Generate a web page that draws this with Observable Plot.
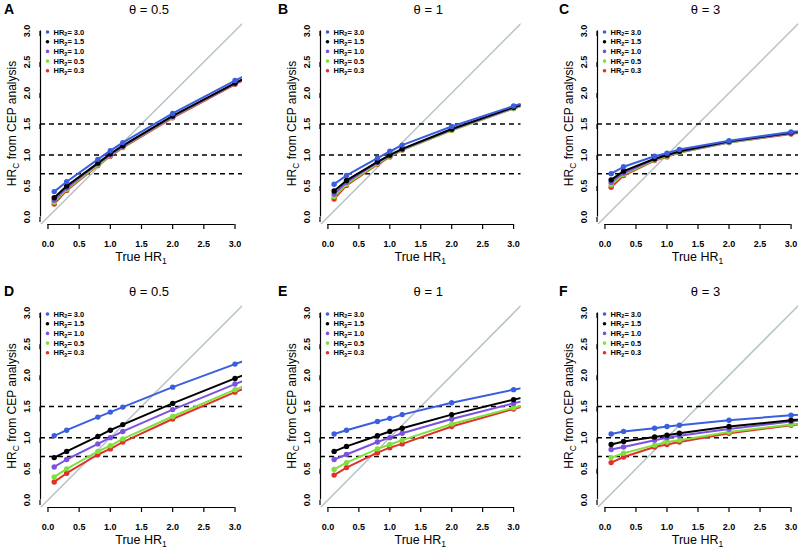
<!DOCTYPE html>
<html><head><meta charset="utf-8">
<script src="https://cdn.jsdelivr.net/npm/d3@7"></script>
<script src="https://cdn.jsdelivr.net/npm/@observablehq/plot@0.6"></script>
<style>
html,body{margin:0;padding:0;background:#fff;overflow:hidden}
#wrap{position:relative;width:800px;height:548px;overflow:hidden;background:#fff}
#wrap svg{position:absolute;overflow:visible}
</style></head><body><div id="wrap"></div>
<script>
// ---------- data ----------
const hr1Values = [0.1, 0.3, 0.8, 1.0, 1.2, 2.0, 3.0];
const hr1Offscale = 4.0; // last value in each row: line continues past the frame edge
const hr2Levels = [3.0, 1.5, 1.0, 0.5, 0.3];
const hr2Colors = ["#3a5ee0", "#000000", "#7b52e0", "#80e03c", "#e2302a"];
const panelLetters = ["A", "B", "C", "D", "E", "F"];
const panelThetas = ["0.5", "1", "3", "0.5", "1", "3"];
const xTicks = [0, 0.5, 1, 1.5, 2, 2.5, 3];
const yTicks = [0, 0.5, 1, 1.5, 2, 2.5, 3];
const refLevels = [0.7, 1.0, 1.5];

// rows: HR2 = 3.0, 1.5, 1.0, 0.5, 0.3 ; columns: hr1Values, then hr1Offscale
const panelA = [
  [0.41, 0.57, 0.93, 1.07, 1.20, 1.67, 2.20, 2.70],
  [0.31, 0.50, 0.87, 1.02, 1.15, 1.63, 2.16, 2.66],
  [0.27, 0.47, 0.86, 1.00, 1.14, 1.62, 2.15, 2.65],
  [0.24, 0.45, 0.84, 0.99, 1.13, 1.61, 2.15, 2.65],
  [0.21, 0.43, 0.83, 0.98, 1.12, 1.60, 2.14, 2.64]
];
const panelB = [
  [0.53, 0.67, 0.95, 1.06, 1.16, 1.46, 1.79, 2.10],
  [0.42, 0.59, 0.89, 1.00, 1.10, 1.42, 1.77, 2.09],
  [0.37, 0.56, 0.88, 0.99, 1.09, 1.41, 1.76, 2.08],
  [0.33, 0.53, 0.86, 0.98, 1.08, 1.40, 1.75, 2.07],
  [0.29, 0.51, 0.85, 0.97, 1.08, 1.40, 1.75, 2.07]
];
const panelC = [
  [0.70, 0.81, 0.98, 1.03, 1.09, 1.23, 1.37, 1.50],
  [0.60, 0.74, 0.94, 1.00, 1.06, 1.22, 1.36, 1.49],
  [0.56, 0.71, 0.93, 0.99, 1.05, 1.21, 1.35, 1.48],
  [0.52, 0.69, 0.92, 0.98, 1.04, 1.20, 1.35, 1.48],
  [0.48, 0.67, 0.91, 0.97, 1.04, 1.20, 1.34, 1.47]
];
const panelD = [
  [1.03, 1.12, 1.33, 1.41, 1.49, 1.81, 2.18, 2.53],
  [0.68, 0.78, 1.02, 1.12, 1.21, 1.55, 1.95, 2.33],
  [0.53, 0.65, 0.90, 1.00, 1.10, 1.45, 1.86, 2.25],
  [0.37, 0.50, 0.78, 0.87, 0.98, 1.34, 1.77, 2.18],
  [0.29, 0.43, 0.73, 0.82, 0.93, 1.30, 1.73, 2.14]
];
const panelE = [
  [1.06, 1.12, 1.26, 1.31, 1.37, 1.56, 1.77, 1.97],
  [0.78, 0.86, 1.03, 1.10, 1.15, 1.37, 1.61, 1.84],
  [0.65, 0.73, 0.93, 1.00, 1.07, 1.30, 1.55, 1.79],
  [0.49, 0.60, 0.82, 0.89, 0.96, 1.22, 1.48, 1.73],
  [0.40, 0.52, 0.76, 0.84, 0.90, 1.18, 1.46, 1.72]
];
const panelF = [
  [1.06, 1.10, 1.15, 1.18, 1.20, 1.28, 1.36, 1.44],
  [0.89, 0.94, 1.01, 1.04, 1.07, 1.18, 1.28, 1.37],
  [0.81, 0.85, 0.96, 1.00, 1.03, 1.14, 1.26, 1.36],
  [0.68, 0.75, 0.88, 0.93, 0.96, 1.09, 1.21, 1.32],
  [0.60, 0.69, 0.85, 0.89, 0.93, 1.07, 1.20, 1.31]
];
const panels = [panelA, panelB, panelC, panelD, panelE, panelF];

// ---------- layout ----------
const FONT = '"Liberation Sans", Arial, Helvetica, sans-serif';
const xDomain = [-0.12, 3.12], yDomain = [-0.12, 3.12];
const ml = 48, mr = 14, mt = 28, mb = 52;
const layout = [
  {left: 39.5, top: 23, w: 202, h: 201, letterDx: -36},
  {left: 320, top: 23, w: 200.5, h: 201, letterDx: -42},
  {left: 597, top: 23, w: 201, h: 201, letterDx: -38},
  {left: 39.5, top: 305, w: 202, h: 202, letterDx: -36},
  {left: 320, top: 305, w: 200.5, h: 202, letterDx: -42},
  {left: 597, top: 305, w: 201, h: 202, letterDx: -38}
];
const diagColor = "#b5c3c7";
const wrap = document.getElementById("wrap");

layout.forEach((L, i) => {
  const rows = [];
  panels[i].forEach((vals, s) => vals.forEach((v, j) => rows.push({
    s, x: j < hr1Values.length ? hr1Values[j] : hr1Offscale, y: v, shown: j < hr1Values.length
  })));
  const marks = [
    Plot.line(xDomain, {x: d => d, y: d => d, stroke: diagColor, strokeWidth: 1.5, clip: true}),
    Plot.ruleY(refLevels, {stroke: "#000", strokeWidth: 1.5, strokeDasharray: "5,4"})
  ];
  for (const s of [4, 3, 2, 1, 0]) {
    const sub = rows.filter(r => r.s === s);
    marks.push(Plot.line(sub, {x: "x", y: "y", stroke: hr2Colors[s], strokeWidth: 2, clip: true}));
    marks.push(Plot.dot(sub.filter(r => r.shown), {x: "x", y: "y", r: 2.7, fill: hr2Colors[s]}));
  }
  marks.push(Plot.ruleY([yDomain[0]], {x1: () => xTicks[0], x2: () => xTicks[xTicks.length - 1], stroke: "#000", strokeWidth: 1.2}));
  marks.push(Plot.ruleX([xDomain[0]], {y1: () => yTicks[0], y2: () => yTicks[yTicks.length - 1], stroke: "#000", strokeWidth: 1.2}));
  marks.push(Plot.axisX({ticks: xTicks, tickSize: 5, tickPadding: 11, tickFormat: d3.format(".1f"),
    fontSize: 9, fontWeight: "bold", label: null, strokeWidth: 1.2}));
  marks.push(Plot.axisY({ticks: yTicks, tickSize: 5, tickPadding: 6, tickFormat: d3.format(".1f"),
    rotate: -90, textAnchor: "middle", lineAnchor: "bottom", fontSize: 9, fontWeight: "bold", label: null, strokeWidth: 1.2}));

  const node = Plot.plot({
    width: ml + L.w + mr, height: mt + L.h + mb,
    marginLeft: ml, marginRight: mr, marginTop: mt, marginBottom: mb,
    x: {domain: xDomain}, y: {domain: yDomain},
    style: {background: "transparent", fontFamily: FONT, overflow: "visible", color: "#000"},
    marks
  });
  node.style.left = (L.left - ml) + "px";
  node.style.top = (L.top - mt) + "px";
  node.style.maxWidth = "none";
  wrap.appendChild(node);

  const g = d3.select(node).append("g").attr("font-family", FONT).attr("fill", "#000").attr("text-anchor", "start");
  g.append("text").attr("x", ml + L.letterDx).attr("y", mt - 9.5)
    .attr("font-size", 14).attr("font-weight", "bold").text(panelLetters[i]);
  g.append("text").attr("x", ml + L.w / 2 + 8).attr("y", mt - 9.5)
    .attr("font-size", 13).attr("text-anchor", "middle").text("θ = " + panelThetas[i]);

  const xt = g.append("text").attr("x", ml + L.w / 2).attr("y", mt + L.h + 37)
    .attr("font-size", 12.5).attr("text-anchor", "middle");
  xt.append("tspan").text("True HR");
  xt.append("tspan").attr("font-size", 8.5).attr("dy", 3).text("1");

  const yt = g.append("text").attr("transform", `translate(${ml - 24},${mt + L.h / 2}) rotate(-90)`)
    .attr("font-size", 12).attr("text-anchor", "middle");
  yt.append("tspan").text("HR");
  yt.append("tspan").attr("font-size", 8.5).attr("dy", 3).text("C");
  yt.append("tspan").attr("dy", -3).text(" from CEP analysis");

  hr2Levels.forEach((h, s) => {
    const cy = mt + 9 + s * 9.7;
    g.append("circle").attr("cx", ml + 7.5).attr("cy", cy).attr("r", 1.8).attr("fill", hr2Colors[s]);
    const t = g.append("text").attr("x", ml + 13.5).attr("y", cy + 2.6)
      .attr("font-size", 7.5).attr("font-weight", "bold").attr("text-anchor", "start");
    t.append("tspan").text("HR");
    t.append("tspan").attr("font-size", 5.5).attr("dy", 1.8).text("2");
    t.append("tspan").attr("dy", -1.8).text("= " + d3.format(".1f")(h));
  });
});
</script>
</body></html>
